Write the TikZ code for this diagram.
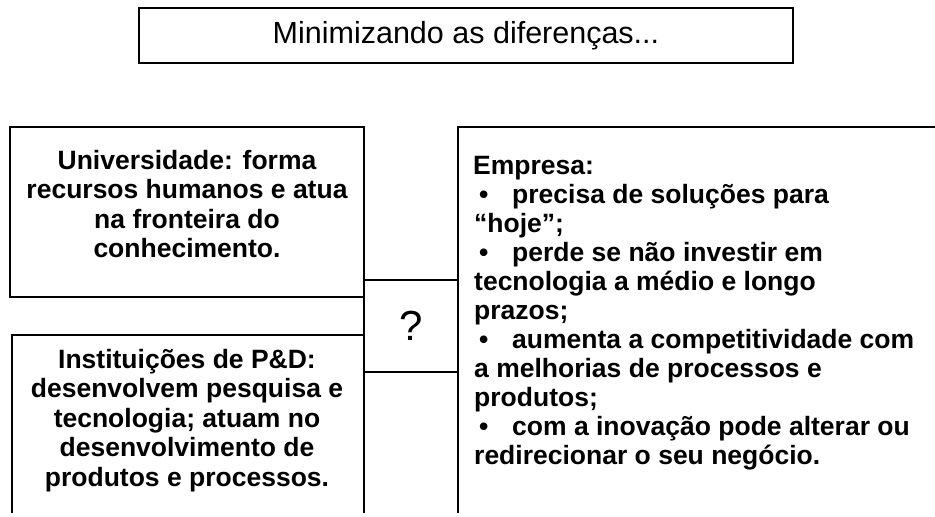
\documentclass[tikz,border=0pt]{standalone}
\usepackage{fontspec}
\setmainfont{Liberation Sans}
\begin{document}
\begin{tikzpicture}[x=1pt,y=-1pt,
  frame/.style={line width=1.8pt,line cap=rect},
  body/.style={inner sep=0pt,font=\fontsize{26.5}{29}\selectfont\bfseries},
  bodyl/.style={body,anchor=base west},
  bodyc/.style={body,anchor=base}]
\useasboundingbox (0,0) rectangle (935,517);
% title
\node[draw,line width=1.8pt,minimum width=654pt,minimum height=55pt,inner sep=0pt,
      font=\fontsize{30.5}{34}\selectfont] (title) at (466,35.5) {Minimizando as diferenças...};
% left top box
\draw[frame] (10,127) rectangle (364,297);
\node[bodyc] (u1) at (187,169) {Universidade: forma};
\node[bodyc] (u2) at (187,198.5) {recursos humanos e atua};
\node[bodyc] (u3) at (187,228) {na fronteira do};
\node[bodyc] (u4) at (187,257.5) {conhecimento.};
% question box
\draw[frame] (364,280) rectangle (458,372);
\node[inner sep=0pt,font=\fontsize{42}{46}\selectfont] (q) at (411,326) {?};
% left bottom box (open at bottom)
\draw[frame] (12,512) -- (12,335) -- (364,335) -- (364,512);
\node[bodyc] (i1) at (187,368) {Instituições de P\&D:};
\node[bodyc] (i2) at (187,397.5) {desenvolvem pesquisa e};
\node[bodyc] (i3) at (187,427) {tecnologia; atuam no};
\node[bodyc] (i4) at (187,456.5) {desenvolvimento de};
\node[bodyc] (i5) at (187,486) {produtos e processos.};
% right box (open at right and bottom)
\draw[frame] (458,512) -- (458,127) -- (935,127);
\node[bodyl] (r1) at (473,174) {Empresa:};
\node[bodyl] (b1) at (479,203) {•};
\node[bodyl] (r2) at (512,203) {precisa de soluções para};
\node[bodyl] (r3) at (474,232) {“hoje”;};
\node[bodyl] (b2) at (479,261) {•};
\node[bodyl] (r4) at (512,261) {perde se não investir em};
\node[bodyl] (r5) at (474,290) {tecnologia a médio e longo};
\node[bodyl] (r6) at (474,319) {prazos;};
\node[bodyl] (b3) at (479,348) {•};
\node[bodyl] (r7) at (512,348) {aumenta a competitividade com};
\node[bodyl] (r8) at (474,377) {a melhorias de processos e};
\node[bodyl] (r9) at (474,406) {produtos;};
\node[bodyl] (b4) at (479,435) {•};
\node[bodyl] (r10) at (512,435) {com a inovação pode alterar ou};
\node[bodyl] (r11) at (474,464) {redirecionar o seu negócio.};
\end{tikzpicture}
\end{document}
